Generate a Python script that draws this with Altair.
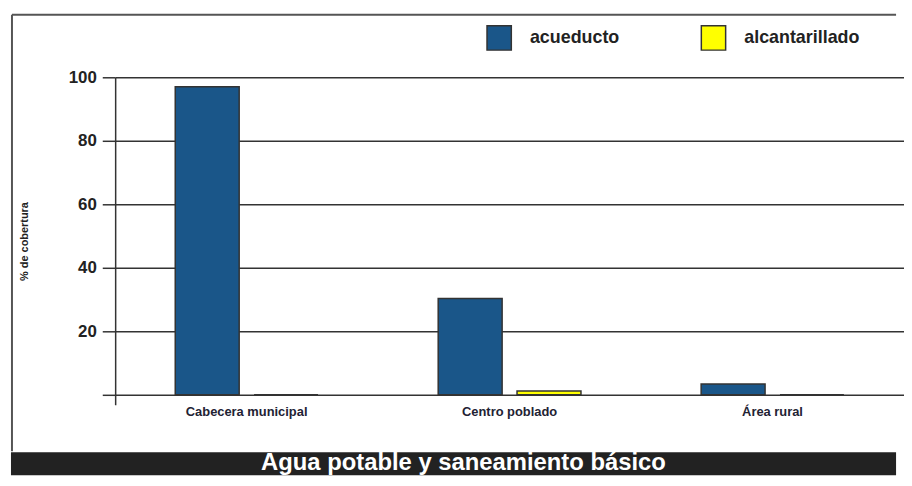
import altair as alt
import pandas as pd

categories = ["Cabecera municipal", "Centro poblado", "Área rural"]
series = ["acueducto", "alcantarillado"]
acueducto = [97.0, 30.3, 3.4]
alcantarillado = [0.0, 1.2, 0.0]
y_ticks = [0, 20, 40, 60, 80, 100]
title_text = "Agua potable y saneamiento básico"
y_title = "% de cobertura"

rows = []
for c, a, b in zip(categories, acueducto, alcantarillado):
    rows.append({"zona": c, "serie": series[0], "valor": a})
    rows.append({"zona": c, "serie": series[1], "valor": b})
df = pd.DataFrame(rows)

FONT = "Liberation Sans, Arial, sans-serif"
W, H = 787, 330

bars = alt.Chart(df).mark_bar(stroke="#333333", strokeWidth=1.5).encode(
    x=alt.X("zona:N", sort=categories,
            scale=alt.Scale(range=[0, 795], paddingInner=0.457, paddingOuter=0.2285),
            axis=alt.Axis(title=None, labelAngle=0, domain=False, ticks=False,
                          labelPadding=1, labelFont=FONT, labelFontSize=13,
                          labelFontWeight="bold", labelColor="#222233")),
    xOffset=alt.XOffset("serie:N", sort=series,
                        scale=alt.Scale(paddingInner=0.189, paddingOuter=0)),
    y=alt.Y("valor:Q",
            scale=alt.Scale(domain=[-3.125, 100], nice=False, zero=False),
            axis=alt.Axis(title=y_title, values=y_ticks,
                          labelExpr="datum.value == 0 ? '' : datum.label",
                          grid=True, gridColor="#333333", gridWidth=1.5, gridOpacity=1,
                          tickSize=13, tickColor="#333333", tickWidth=1.5,
                          domainColor="#333333", domainWidth=1.5,
                          labelPadding=6, labelFont=FONT, labelFontSize=17,
                          labelFontWeight="bold", labelColor="#222222",
                          titleFont=FONT, titleFontSize=11, titleFontWeight="bold",
                          titleColor="#222222", titlePadding=39)),
    color=alt.Color("serie:N",
                    scale=alt.Scale(domain=series, range=["#1a5689", "#ffff00"]),
                    legend=alt.Legend(title=None, orient="none", legendX=374, legendY=-53,
                                      direction="horizontal", symbolType="square",
                                      symbolSize=600, symbolStrokeColor="#333333",
                                      symbolStrokeWidth=1.5, symbolOpacity=1,
                                      labelFont=FONT, labelFontSize=18,
                                      labelFontWeight="bold", labelColor="#222222",
                                      labelOffset=18, columnPadding=78)),
)

one = alt.Data(values=[{"k": 1}])

frame_left = alt.Chart(one).mark_rule(color="#555555", strokeWidth=2).encode(
    x=alt.value(-104), y=alt.value(-63), y2=alt.value(377))
frame_top = alt.Chart(one).mark_rule(color="#555555", strokeWidth=2).encode(
    x=alt.value(-104), x2=alt.value(W), y=alt.value(-63))
band = alt.Chart(one).mark_rect(color="#222222").encode(
    x=alt.value(-105), x2=alt.value(W), y=alt.value(378), y2=alt.value(401))
title = alt.Chart(one).mark_text(text=title_text, color="white", font=FONT,
                                 fontSize=24, fontWeight="bold", baseline="alphabetic",
                                 align="center").encode(
    x=alt.value(351), y=alt.value(396))

chart = alt.layer(frame_left, frame_top, band, title, bars).properties(
    width=W, height=H,
    padding={"left": 3, "top": 4, "right": 0, "bottom": 0},
).configure_view(stroke="transparent")

chart.save("out.html", embed_options={"renderer": "svg", "actions": False})
